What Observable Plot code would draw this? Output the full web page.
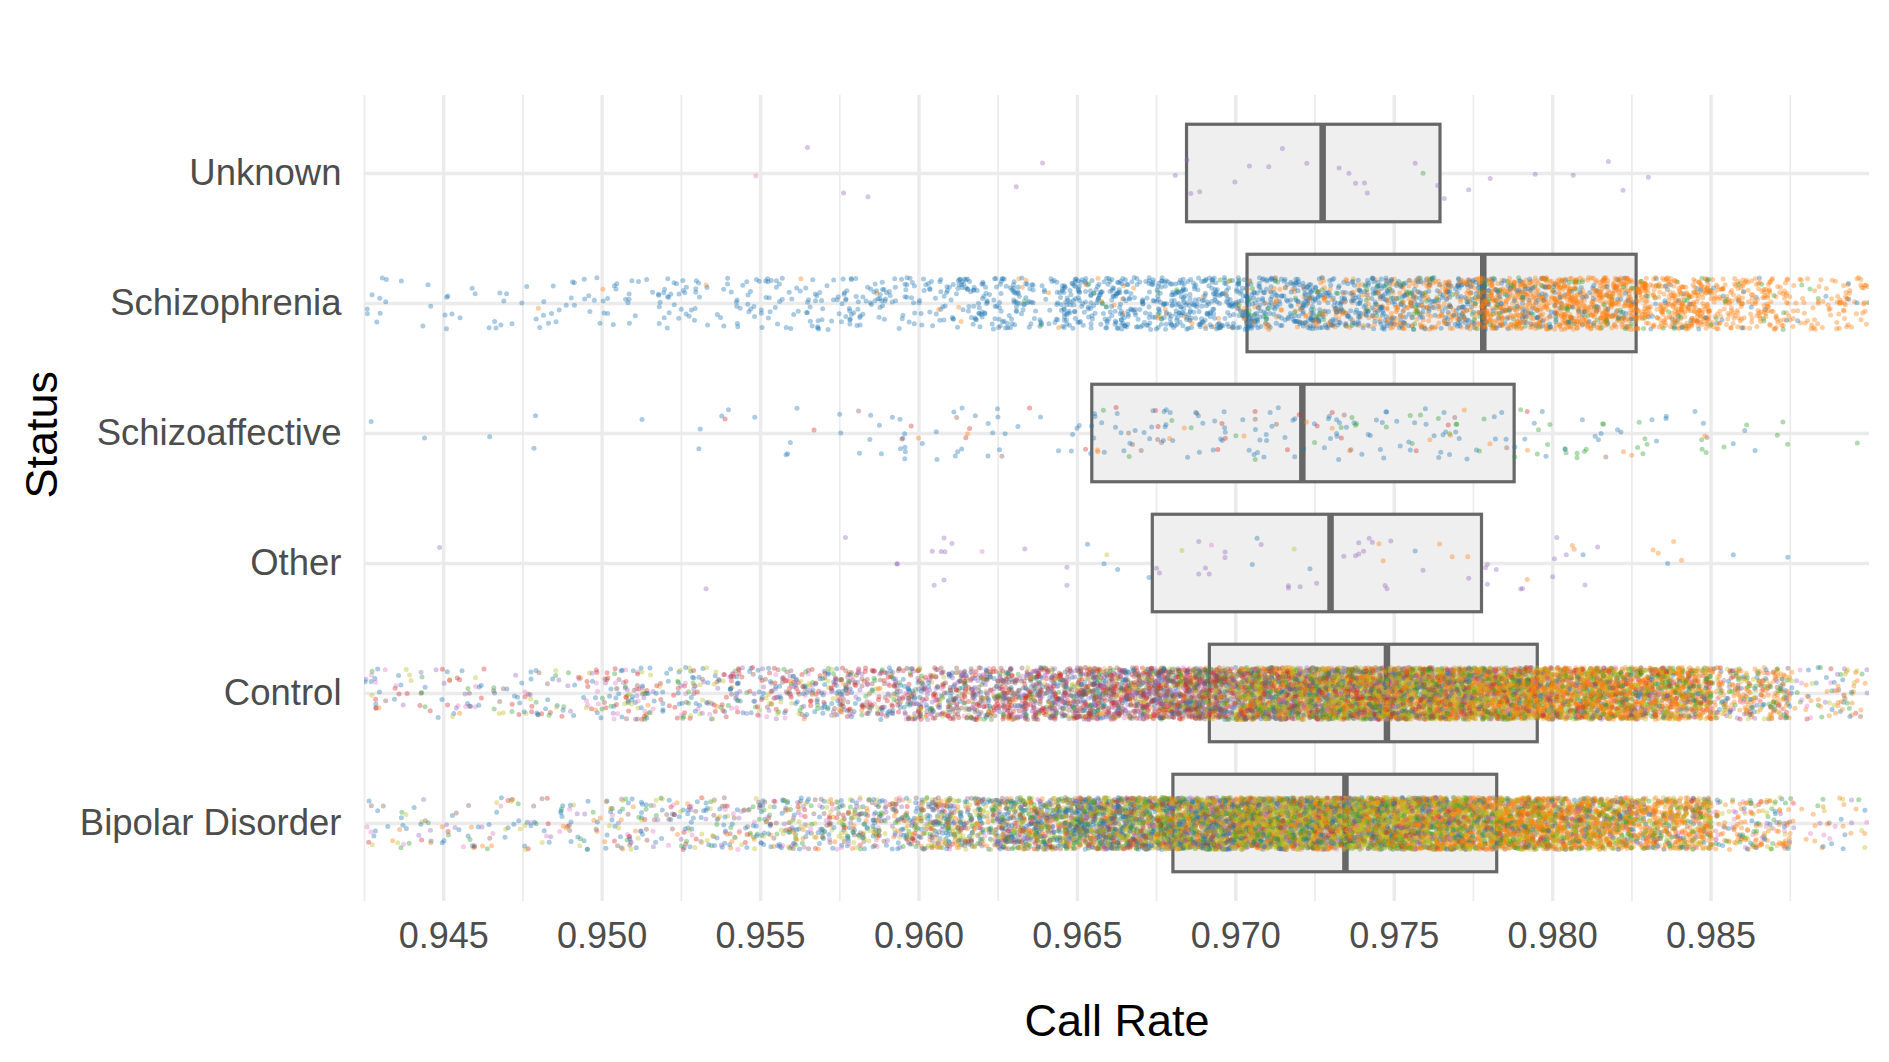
<!DOCTYPE html>
<html>
<head>
<meta charset="utf-8">
<script src="https://cdn.jsdelivr.net/npm/d3@7"></script>
<script src="https://cdn.jsdelivr.net/npm/@observablehq/plot@0.6"></script>
<style>
  html, body { margin: 0; padding: 0; background: #fff; }
</style>
</head>
<body>
<div id="chart"></div>
<script>
// ---------- categories and box statistics ----------
const categories = ["Unknown", "Schizophrenia", "Schizoaffective", "Other", "Control", "Bipolar Disorder"];
const q1     = [0.96846, 0.97037, 0.96547, 0.96738, 0.96918, 0.96803];
const median = [0.97274, 0.97781, 0.97210, 0.97299, 0.97477, 0.97346];
const q3     = [0.97646, 0.98265, 0.97880, 0.97777, 0.97953, 0.97825];

// ---------- axis ticks ----------
const xMajorTicks = [0.945, 0.950, 0.955, 0.960, 0.965, 0.970, 0.975, 0.980, 0.985];
const xMinorTicks = [0.9425, 0.9475, 0.9525, 0.9575, 0.9625, 0.9675, 0.9725, 0.9775, 0.9825, 0.9875];
const xDomain = [0.9425, 0.990];

// ---------- point counts per 0.0025-wide call-rate bin, from 0.9425 to 0.990 ----------
const binStart = 0.9425;
const binWidth = 0.0025;

const schizBlue   = [13,17,22,38,40,55,75,95,130,170,210,220,190,150,100,55,28,12,5];
const schizOrange = [0,0,1,1,1,1,1,3,5,8,15,45,90,165,305,370,300,170,80];
const schizGreen  = [0,0,0,0,0,0,0,0,2,4,6,15,20,25,35,35,22,10,4];

const schizoaffBlue   = [2,1,2,1,5,5,14,14,8,18,19,18,20,17,10,7,6,3,0];
const schizoaffRed    = [0,0,0,0,1,1,2,2,1,3,4,3,3,2,1,0,0,0,0];
const schizoaffOrange = [0,0,0,0,0,0,1,1,0,2,2,2,2,3,2,2,1,0,0];
const schizoaffGreen  = [0,0,0,0,0,0,0,0,0,2,2,3,5,7,8,8,8,5,1];
const schizoaffBrown  = [0,0,0,0,0,0,1,1,1,3,3,2,2,1,1,1,1,0,0];

const controlBlue   = [12,14,18,33,36,45,50,55,70,85,95,96,100,90,65,50,45,30,14];
const controlRed    = [8,9,12,22,24,34,55,75,110,150,190,160,150,130,100,80,60,18,4];
const controlPink   = [4,4,6,11,12,15,15,15,20,25,30,36,40,35,25,20,18,14,7];
const controlOlive  = [4,5,6,11,12,18,18,25,40,70,150,330,420,420,330,260,190,50,10];
const controlGreen  = [4,4,6,11,12,14,15,20,28,40,70,130,160,165,150,125,100,40,10];
const controlPurple = [4,4,6,11,12,20,35,60,90,115,130,105,90,80,50,35,28,18,7];
const controlBrown  = [3,4,4,8,9,20,45,72,110,145,185,160,150,120,80,50,36,10,2];
const controlOrange = [1,1,2,3,3,4,7,8,12,20,50,160,240,310,450,430,350,120,26];

const bipolarBlue   = [12,14,18,30,38,50,65,95,160,230,230,180,170,120,75,55,38,22,6];
const bipolarOlive  = [4,5,6,10,14,24,45,95,165,280,430,580,560,460,320,220,130,25,4];
const bipolarGreen  = [4,4,5,8,11,17,25,45,80,120,160,175,175,160,140,110,70,20,4];
const bipolarOrange = [4,4,5,9,11,16,22,38,65,100,170,260,300,400,470,420,280,80,16];
const bipolarPink   = [3,3,4,7,8,10,10,12,20,30,30,30,30,35,40,35,26,18,6];
const bipolarBrown  = [3,4,5,9,11,18,28,45,80,120,140,116,110,90,55,30,18,4,1];
const bipolarPurple = [3,3,4,7,9,13,20,30,50,70,80,58,55,45,30,20,14,9,4];
const bipolarRed    = [2,3,3,5,8,12,15,20,30,50,60,51,50,40,20,10,5,2,0];

// ---------- sparse groups: individual call rates ----------
const unknownRates  = [0.95485,0.95648,0.95762,0.95839,0.96307,0.96390,0.96809,0.96846,0.96858,0.96886,0.96997,0.97043,0.97104,0.97147,0.97224,0.97326,0.97357,0.97378,0.97406,0.97415,0.97566,0.97591,0.97637,0.97658,0.97735,0.97803,0.97945,0.98065,0.98176,0.98222,0.98302];
const unknownColors = ["pink","purple","purple","purple","purple","purple","purple","purple","purple","purple","purple","purple","purple","purple","purple","purple","purple","purple","purple","purple","purple","green","purple","purple","purple","purple","purple","purple","purple","purple","purple"];

const otherRates  = [0.94487,0.95328,0.95768,0.95931,0.95931,0.96042,0.96048,0.96070,0.96079,0.96079,0.96082,0.96104,0.96199,0.96334,0.96467,0.96467,0.96532,0.96584,0.96593,0.96627,0.96726,0.96750,0.96759,0.96830,0.96883,0.96883,0.96904,0.96916,0.96923,0.96966,0.96966,0.97052,0.97067,0.97080,0.97166,0.97166,0.97184,0.97203,0.97234,0.97255,0.97341,0.97378,0.97388,0.97388,0.97403,0.97421,0.97431,0.97452,0.97465,0.97471,0.97477,0.97489,0.97566,0.97591,0.97643,0.97683,0.97732,0.97735,0.97788,0.97794,0.97794,0.97822,0.97899,0.97905,0.97920,0.98000,0.98006,0.98013,0.98043,0.98062,0.98068,0.98096,0.98102,0.98142,0.98317,0.98333,0.98363,0.98382,0.98407,0.98570,0.98742];
const otherColors = ["purple","purple","purple","purple","purple","purple","purple","purple","purple","purple","purple","purple","pink","purple","purple","purple","blue","blue","olive","blue","blue","purple","purple","olive","purple","purple","purple","purple","pink","purple","purple","blue","blue","purple","purple","purple","olive","purple","blue","purple","purple","purple","purple","purple","purple","purple","purple","orange","orange","purple","purple","purple","blue","purple","orange","orange","orange","purple","purple","purple","purple","purple","purple","purple","orange","purple","purple","purple","purple","orange","orange","blue","purple","purple","orange","orange","blue","orange","orange","blue","blue"];

// ---------- colours ----------
const palette = {
  blue: "#1f77b4", orange: "#ff7f0e", green: "#2ca02c", red: "#d62728",
  purple: "#9467bd", brown: "#8c564b", pink: "#e377c2", olive: "#bcbd22"
};

// ---------- jitter layout (deterministic scatter within each bin / band) ----------
function scatter(n) {
  n = n >>> 0;
  n = Math.imul(n ^ (n >>> 16), 0x45d9f3b);
  n = Math.imul(n ^ (n >>> 16), 0x45d9f3b);
  n = n ^ (n >>> 16);
  return (n >>> 0) / 4294967296;
}
const binnedGroups = [
  [1, "blue", schizBlue], [1, "orange", schizOrange], [1, "green", schizGreen],
  [2, "blue", schizoaffBlue], [2, "red", schizoaffRed], [2, "orange", schizoaffOrange], [2, "green", schizoaffGreen], [2, "brown", schizoaffBrown],
  [4, "blue", controlBlue], [4, "red", controlRed], [4, "pink", controlPink], [4, "olive", controlOlive],
  [4, "green", controlGreen], [4, "purple", controlPurple], [4, "brown", controlBrown], [4, "orange", controlOrange],
  [5, "blue", bipolarBlue], [5, "olive", bipolarOlive], [5, "green", bipolarGreen], [5, "orange", bipolarOrange],
  [5, "pink", bipolarPink], [5, "brown", bipolarBrown], [5, "purple", bipolarPurple], [5, "red", bipolarRed]
];
const jitterHeight = 0.2;
const points = [];
let g = 0;
for (const [cat, color, counts] of binnedGroups) {
  counts.forEach((n, i) => {
    for (let j = 0; j < n; j++, g++) {
      points.push({
        x: binStart + binWidth * (i + scatter(3 * g + 1)),
        y: cat + jitterHeight * (2 * scatter(3 * g + 2) - 1),
        fill: palette[color],
        k: scatter(3 * g + 3)
      });
    }
  });
}
unknownRates.forEach((x, j) => {
  g++;
  points.push({x, y: 0 + jitterHeight * (2 * scatter(3 * g + 2) - 1), fill: palette[unknownColors[j]], k: scatter(3 * g + 3)});
});
otherRates.forEach((x, j) => {
  g++;
  points.push({x, y: 3 + jitterHeight * (2 * scatter(3 * g + 2) - 1), fill: palette[otherColors[j]], k: scatter(3 * g + 3)});
});
points.sort((a, b) => a.k - b.k);

const boxes = categories.map((c, i) => ({i, q1: q1[i], median: median[i], q3: q3[i]}));
const boxHalf = 0.375;

const chart = Plot.plot({
  width: 1889,
  height: 1062,
  marginLeft: 364,
  marginRight: 20,
  marginTop: 95,
  marginBottom: 161,
  style: {fontFamily: "'Liberation Sans', Arial, Helvetica, sans-serif", background: "#fff", overflow: "visible"},
  x: {domain: xDomain, label: null},
  y: {domain: [categories.length - 0.4, -0.6], label: null},
  marks: [
    Plot.ruleX(xMinorTicks, {stroke: "#ebebeb", strokeWidth: 1.7}),
    Plot.ruleX(xMajorTicks, {stroke: "#ebebeb", strokeWidth: 3.4}),
    Plot.ruleY(d3.range(categories.length), {stroke: "#ebebeb", strokeWidth: 3.4}),
    Plot.rect(boxes, {x1: "q1", x2: "q3", y1: d => d.i - boxHalf, y2: d => d.i + boxHalf, fill: "#efefef", stroke: "#676767", strokeWidth: 3.2, strokeLinejoin: "miter"}),
    Plot.ruleX(boxes, {x: "median", y1: d => d.i - boxHalf, y2: d => d.i + boxHalf, stroke: "#676767", strokeWidth: 6.5}),
    Plot.dot(points, {x: "x", y: "y", r: 2.5, fill: "fill", fillOpacity: 0.38, clip: true}),
    Plot.axisX({ticks: xMajorTicks, tickFormat: d3.format(".3f"), tickSize: 0, tickPadding: 21, fontSize: 36, color: "#4d4d4d", label: null}),
    Plot.axisY({ticks: d3.range(categories.length), tickFormat: i => categories[i], tickSize: 0, tickPadding: 23, fontSize: 36.5, color: "#4d4d4d", label: null}),
    Plot.text(["Call Rate"], {frameAnchor: "bottom", dy: 134, lineAnchor: "bottom", fontSize: 45, fill: "#000"}),
    Plot.text(["Status"], {frameAnchor: "left", dx: -308, rotate: -90, lineAnchor: "bottom", fontSize: 45, fill: "#000"})
  ]
});
document.getElementById("chart").appendChild(chart);
</script>
</body>
</html>
